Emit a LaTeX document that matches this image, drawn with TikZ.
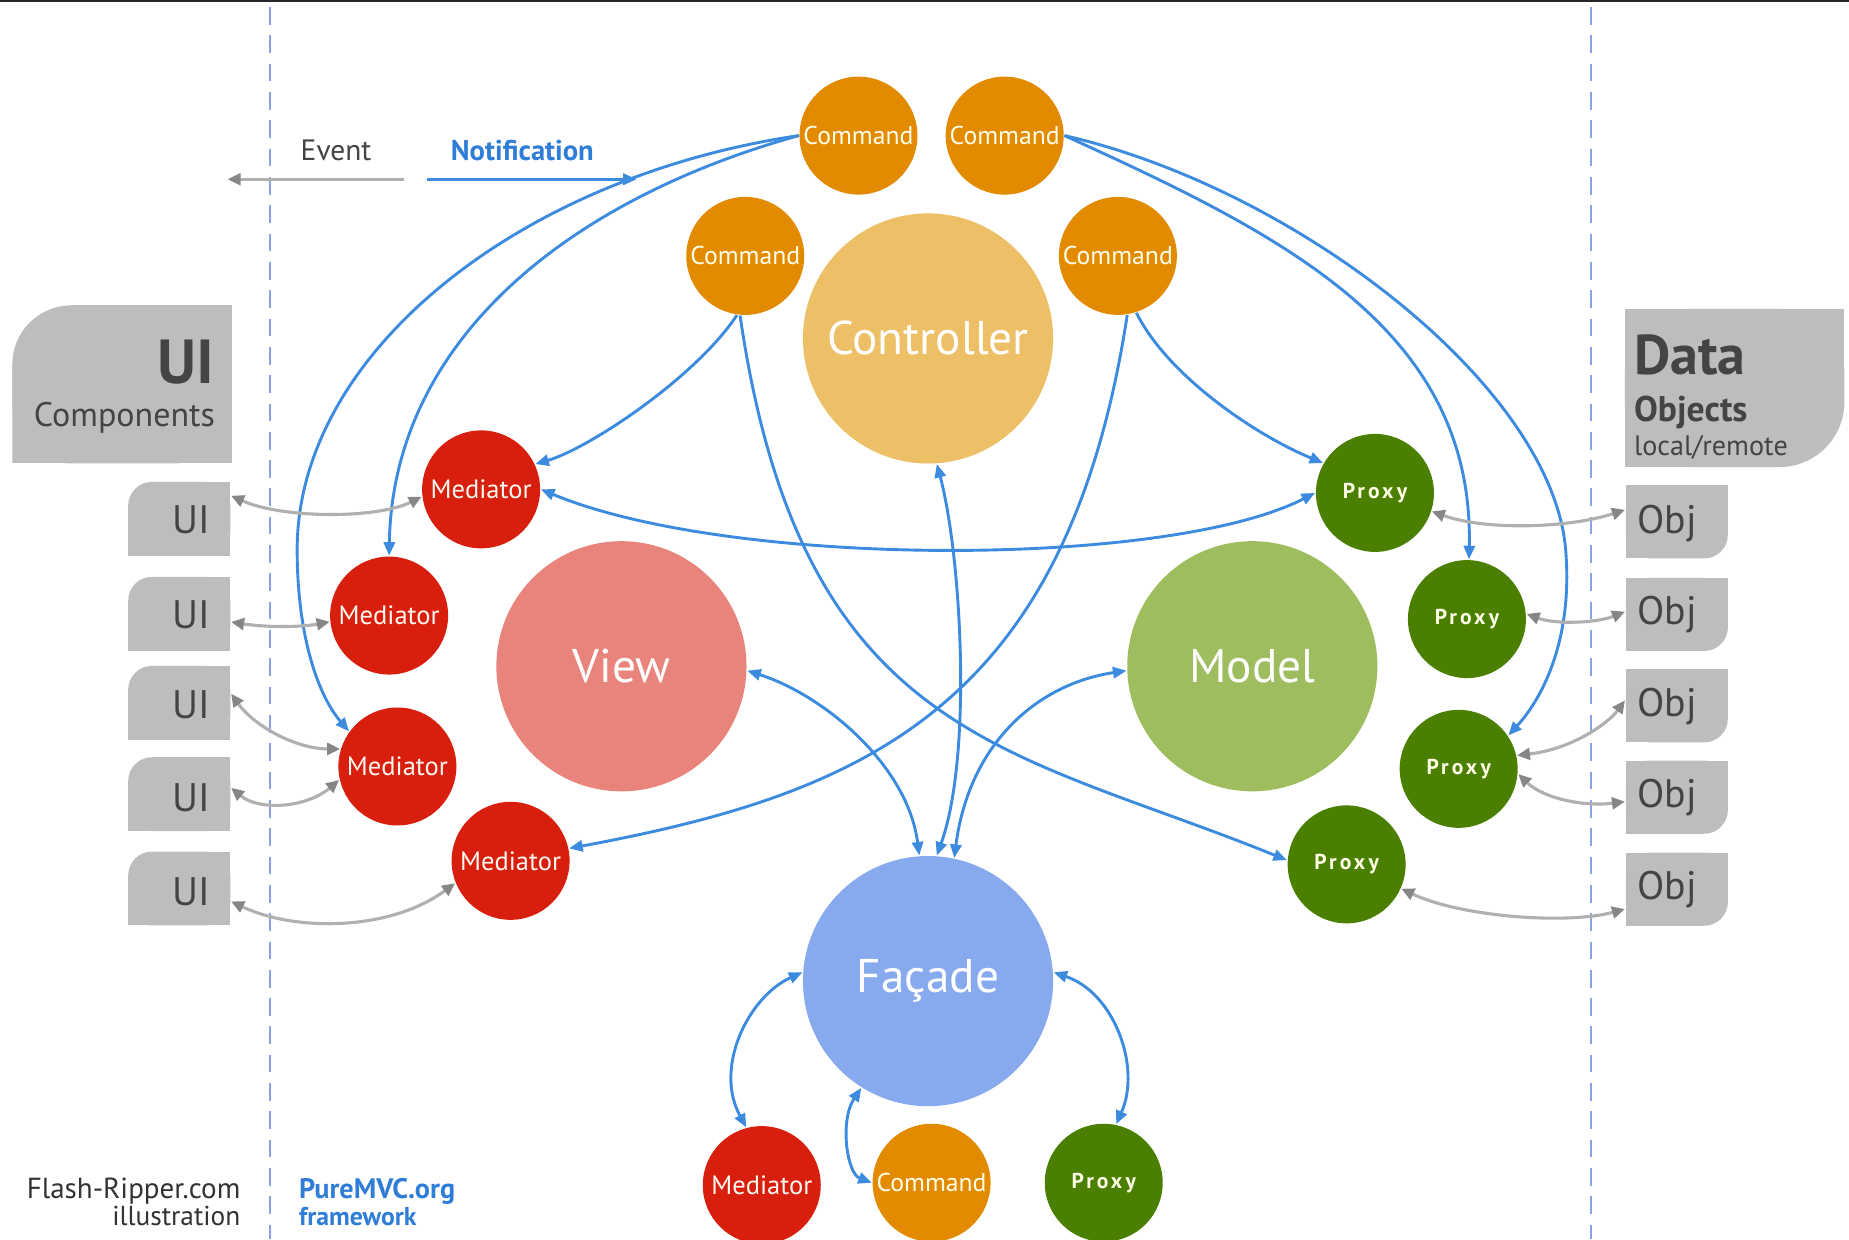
\documentclass[tikz,border=0pt]{standalone}
\usepackage{fontspec}
\setmainfont{PT Sans}
\newfontfamily\trackedfont[LetterSpace=14]{PT Sans}
\usetikzlibrary{arrows.meta}

\definecolor{cmdorange}{HTML}{E38B00}
\definecolor{ctrlorange}{HTML}{EDBF66}
\definecolor{viewred}{HTML}{E8847B}
\definecolor{modelgreen}{HTML}{9EBD5F}
\definecolor{facblue}{HTML}{87A9EE}
\definecolor{medred}{HTML}{D81E0C}
\definecolor{proxgreen}{HTML}{4A7F00}
\definecolor{boxgray}{HTML}{BDBDBD}
\definecolor{inkgray}{HTML}{444444}
\definecolor{flowblue}{HTML}{3C8BDF}
\definecolor{evgray}{HTML}{B0B0B0}
\definecolor{evhead}{HTML}{868686}
\definecolor{rulecol}{HTML}{86A3E3}
\definecolor{labelblue}{HTML}{2F7DD6}

\tikzset{
  ball/.style={circle, inner sep=0pt, minimum size=1cm},
  cmd/.style={ball, fill=cmdorange, text=white!92!yellow, font=\fontsize{6.2pt}{7pt}\selectfont},
  med/.style={ball, fill=medred, text=white!94!orange, font=\fontsize{6.4pt}{7pt}\selectfont},
  prx/.style={ball, fill=proxgreen, text=white!90!yellow, font=\trackedfont\bfseries\fontsize{5.2pt}{6pt}\selectfont},
  core/.style={circle, inner sep=0pt, minimum size=2.12cm, text=white, font=\fontsize{11.4pt}{13pt}\selectfont},
  flow/.style={draw=flowblue, line width=0.7pt, -{Triangle[length=1.15mm, width=0.95mm]}},
  flowboth/.style={draw=flowblue, line width=0.7pt, {Triangle[length=1.15mm, width=0.95mm]}-{Triangle[length=1.15mm, width=0.95mm]}},
  evt/.style={draw=evgray, line width=0.75pt, {Triangle[length=1.1mm, width=1.0mm, color=evhead]}-{Triangle[length=1.1mm, width=1.0mm, color=evhead]}},
  evtone/.style={draw=evgray, line width=0.75pt, -{Triangle[length=1.1mm, width=1.0mm, color=evhead]}},
  divider/.style={draw=rulecol, line width=0.55pt, dash pattern=on 0.15cm off 0.09cm},
  tlround/.style={rectangle, inner sep=0pt, path picture={
      \fill[boxgray, rounded corners=#1] (path picture bounding box.south west) rectangle (path picture bounding box.north east);
      \fill[boxgray] ([xshift=#1]path picture bounding box.north west) rectangle (path picture bounding box.south east);
      \fill[boxgray] ([yshift=-#1]path picture bounding box.north west) rectangle (path picture bounding box.south east);
  }},
  brround/.style={rectangle, inner sep=0pt, path picture={
      \fill[boxgray, rounded corners=#1] (path picture bounding box.south west) rectangle (path picture bounding box.north east);
      \fill[boxgray] (path picture bounding box.north west) rectangle ([xshift=-#1]path picture bounding box.south east);
      \fill[boxgray] (path picture bounding box.north west) rectangle ([yshift=#1]path picture bounding box.south east);
  }},
  uibox/.style={tlround=0.2cm, minimum width=0.865cm, minimum height=0.625cm},
  objbox/.style={brround=0.2cm, minimum width=0.865cm, minimum height=0.62cm},
  boxtext/.style={inner sep=0pt, text=inkgray, font=\fontsize{9.6pt}{11pt}\selectfont},
}

\begin{document}
\begin{tikzpicture}[x=0.01cm, y=-0.01cm]
\useasboundingbox (0,0) rectangle (1568,1051);
\fill[white] (0,0) rectangle (1568,1051);
\fill[black!85] (0,0) rectangle (1568,1.6);

% dividers between UI, framework and data
\coordinate (divLtop) at (229,6);
\coordinate (divLbot) at (229,1051);
\coordinate (divRtop) at (1349,6);
\coordinate (divRbot) at (1349,1051);
\draw[divider] (divLtop) -- (divLbot);
\draw[divider] (divRtop) -- (divRbot);

% legend
\node[anchor=base, inner sep=0pt, text=inkgray, font=\fontsize{7.1pt}{8pt}\selectfont] (evtxt) at (285,136.5) {Event};
\node[anchor=base, inner sep=0pt, text=labelblue, font=\bfseries\fontsize{6.9pt}{8pt}\selectfont] (nftxt) at (443,136.5) {Notification};
\coordinate (evR) at (343,152);
\coordinate (evL) at (193,152);
\coordinate (nfL) at (362,152);
\coordinate (nfR) at (540,152);
\draw[evtone] (evR) -- (evL);
\draw[flow] (nfL) -- (nfR);

% side panels
\node[tlround=0.5cm, minimum width=1.86cm, minimum height=1.34cm] (uipanel) at (103.5,326) {};
\node[anchor=base east, inner sep=0pt, text=inkgray, font=\bfseries\fontsize{15pt}{17pt}\selectfont] (uipanelA) at (182,325) {UI};
\node[anchor=base east, inner sep=0pt, text=inkgray, font=\fontsize{8.2pt}{9pt}\selectfont] (uipanelB) at (183,362) {Components};

\node[brround=0.55cm, minimum width=1.86cm, minimum height=1.34cm] (datapanel) at (1471,329) {};
\node[anchor=base west, inner sep=0pt, text=inkgray, font=\bfseries\fontsize{13.5pt}{15pt}\selectfont] (datapanelA) at (1385,318) {Data};
\node[anchor=base west, inner sep=0pt, text=inkgray, font=\bfseries\fontsize{8.6pt}{10pt}\selectfont] (datapanelB) at (1385,357.6) {Objects};
\node[anchor=base west, inner sep=0pt, text=inkgray, font=\fontsize{6.8pt}{8pt}\selectfont] (datapanelC) at (1385,386) {local/remote};

% UI components
\node[uibox] (ui1) at (152,440) {};
\node[uibox] (ui2) at (152,520.5) {};
\node[uibox] (ui3) at (152,596) {};
\node[uibox] (ui4) at (152,673.5) {};
\node[uibox] (ui5) at (152,753.5) {};
\node[boxtext, anchor=base east] (ui1t) at (179,452) {UI};
\node[boxtext, anchor=base east] (ui2t) at (179,533) {UI};
\node[boxtext, anchor=base east] (ui3t) at (179,609) {UI};
\node[boxtext, anchor=base east] (ui4t) at (179,688) {UI};
\node[boxtext, anchor=base east] (ui5t) at (179,767.5) {UI};

% data objects
\node[objbox] (ob1) at (1422,442.5) {};
\node[objbox] (ob2) at (1422,521) {};
\node[objbox] (ob3) at (1422,598.5) {};
\node[objbox] (ob4) at (1422,676) {};
\node[objbox] (ob5) at (1422,754) {};
\node[boxtext, anchor=base west] (ob1t) at (1388,452) {Obj};
\node[boxtext, anchor=base west] (ob2t) at (1388,530) {Obj};
\node[boxtext, anchor=base west] (ob3t) at (1388,608) {Obj};
\node[boxtext, anchor=base west] (ob4t) at (1388,685) {Obj};
\node[boxtext, anchor=base west] (ob5t) at (1388,763) {Obj};

% core actors
\node[core, fill=ctrlorange] (ctrl) at (787,287) {Controller};
\node[core, fill=viewred] (view) at (527,565) {View};
\node[core, fill=modelgreen] (model) at (1062,565) {Model};
\node[core, fill=facblue] (fac) at (787,832) {Façade};

% commands
\node[cmd] (c1) at (728,115) {Command};
\node[cmd] (c2) at (852,115) {Command};
\node[cmd] (c3) at (632,217) {Command};
\node[cmd] (c4) at (948,217) {Command};
\node[cmd] (cb) at (790,1003) {Command};

% mediators
\node[med] (m1) at (408,415) {Mediator};
\node[med] (m2) at (330,522) {Mediator};
\node[med] (m3) at (337,650) {Mediator};
\node[med] (m4) at (433,730) {Mediator};
\node[med] (mb) at (646,1005) {Mediator};

% proxies
\node[prx] (p1) at (1166,418) {Proxy};
\node[prx] (p2) at (1244,525) {Proxy};
\node[prx] (p3) at (1237,652) {Proxy};
\node[prx] (p4) at (1142,733) {Proxy};
\node[prx] (pb) at (936,1003) {Proxy};

% notifications sent by commands
\draw[flow] (c1.west) .. controls (440,150) and (252,300) .. (252,466)
                      .. controls (252,540) and (270,590) .. (m3.144);
\draw[flow] (c1.west) .. controls (480,170) and (333,290) .. (m2.north);
\draw[flow] (c3.262) .. controls (590,320) and (500,380) .. (m1.25);
\draw[flow] (c3.265) .. controls (680,627) and (856,634) .. (p4.176);
\draw[flow] (c4.288) .. controls (991,320) and (1067,370) .. (p1.150);
\draw[flow] (c4.279) .. controls (905,600) and (733,673) .. (m4.12);
\draw[flow] (c2.east) .. controls (1090,200) and (1250,280) .. (p2.88);
\draw[flow] (c2.east) .. controls (1100,160) and (1320,330) .. (1328,470)
                      .. controls (1333,540) and (1310,590) .. (p3.34);

% mediator -- proxy
\draw[flowboth] (m1.east) .. controls (620,482) and (990,482) .. (p1.west);

% core actors -- facade
\draw[flowboth] (ctrl.274) .. controls (815,470) and (825,640) .. (fac.86);
\draw[flowboth] (view.358) .. controls (700,590) and (770,650) .. (fac.94);
\draw[flowboth] (model.182) .. controls (880,580) and (822,630) .. (fac.78);

% facade -- bottom actors
\draw[flowboth] (fac.176) .. controls (635,845) and (605,905) .. (mb.105);
\draw[flowboth] (fac.238) .. controls (712,950) and (718,995) .. (cb.west);
\draw[flowboth] (fac.4) .. controls (945,842) and (968,905) .. (pb.78);

% events between UI components and mediators
\draw[evt] (ui1.24) .. controls (240,440) and (320,440) .. (m1.187);
\draw[evt] (ui2.351) .. controls (225,532) and (255,532) .. (m2.186);
\draw[evt] (ui3.10) .. controls (215,615) and (250,635) .. (m3.163);
\draw[evt] (ui4.7) .. controls (220,688) and (260,685) .. (m3.193);
\draw[evt] (ui5.346) .. controls (250,790) and (330,790) .. (m4.202);

% proxies -- data objects
\draw[evt] (p1.342) .. controls (1260,450) and (1330,448) .. (ob1.167);
\draw[evt] (p2.5) .. controls (1320,530) and (1355,528) .. (ob2.177);
\draw[evt] (p3.13) .. controls (1335,635) and (1365,612) .. (ob3.174);
\draw[evt] (p3.355) .. controls (1310,678) and (1345,684) .. (ob4.185);
\draw[evt] (p4.336) .. controls (1240,778) and (1330,784) .. (ob5.201);

% credits
\node[anchor=base east, inner sep=0pt, text=black!80, font=\fontsize{7pt}{8pt}\selectfont] (credA) at (204.5,1016) {Flash-Ripper.com};
\node[anchor=base east, inner sep=0pt, text=black!80, font=\fontsize{6.6pt}{8pt}\selectfont] (credB) at (204.5,1039) {illustration};
\node[anchor=base west, inner sep=0pt, text=labelblue, font=\bfseries\fontsize{6.8pt}{8pt}\selectfont] (fwA) at (252.9,1016) {PureMVC.org};
\node[anchor=base west, inner sep=0pt, text=labelblue, font=\bfseries\fontsize{6.2pt}{8pt}\selectfont] (fwB) at (252.9,1039) {framework};
\end{tikzpicture}
\end{document}
